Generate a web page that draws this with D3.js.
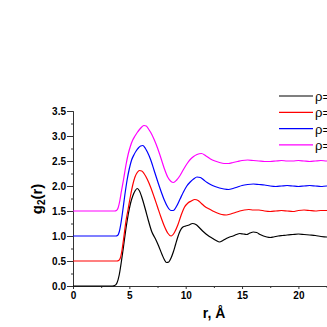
<!DOCTYPE html>
<html>
<head>
<meta charset="utf-8">
<script src="https://cdn.jsdelivr.net/npm/d3@7"></script>
<style>
body{margin:0;background:#fff}
svg{display:block;font-family:"Liberation Sans",Arial,sans-serif}
.axis text{font-weight:bold;font-size:10px;fill:#000}
.axis path,.axis line{stroke:#333}
</style>
</head>
<body>
<div id="chart"></div>
<script>
// g2(r) curves as [r, g]
var black=[[0,0],[3.5,0],[3.7,0.01],[3.9,0.06],[4.1,0.22],[4.3,0.5],[4.5,0.82],[4.7,1.15],[4.9,1.43],[5.1,1.65],[5.3,1.8],[5.5,1.9],[5.7,1.95],[5.9,1.9],[6.1,1.78],[6.4,1.55],[6.7,1.3],[7.0,1.08],[7.3,0.95],[7.6,0.8],[7.9,0.63],[8.1,0.53],[8.3,0.47],[8.5,0.48],[8.7,0.56],[8.9,0.68],[9.1,0.83],[9.3,0.98],[9.5,1.1],[9.7,1.17],[10.0,1.2],[10.3,1.22],[10.6,1.25],[10.9,1.23],[11.2,1.17],[11.5,1.1],[11.8,1.04],[12.1,0.99],[12.4,0.95],[12.7,0.91],[13.0,0.88],[13.3,0.91],[13.6,0.95],[13.9,0.98],[14.2,1.0],[14.5,1.03],[14.8,1.05],[15.1,1.04],[15.4,1.03],[15.7,1.06],[16.0,1.08],[16.3,1.07],[16.6,1.03],[16.9,1.0],[17.2,0.98],[17.5,0.97],[17.8,0.98],[18.2,1.0],[18.6,1.01],[19.0,1.02],[19.5,1.03],[20.0,1.04],[20.5,1.03],[21.0,1.02],[21.5,1.01],[22.0,0.99],[22.5,0.98],[23,0.99]]
var red=[[0,0.5],[3.9,0.5],[4.05,0.51],[4.2,0.56],[4.35,0.72],[4.5,0.96],[4.7,1.3],[4.9,1.55],[5.1,1.8],[5.3,2.02],[5.5,2.18],[5.7,2.27],[5.9,2.31],[6.1,2.3],[6.3,2.25],[6.6,2.13],[6.9,1.97],[7.2,1.78],[7.5,1.58],[7.8,1.38],[8.1,1.2],[8.4,1.06],[8.7,1.0],[9.0,1.07],[9.3,1.22],[9.6,1.42],[9.9,1.58],[10.2,1.66],[10.5,1.7],[10.8,1.73],[11.1,1.71],[11.4,1.65],[11.7,1.59],[12.0,1.55],[12.4,1.5],[12.8,1.46],[13.2,1.43],[13.6,1.42],[14.0,1.44],[14.4,1.47],[14.8,1.5],[15.2,1.52],[15.6,1.53],[16.0,1.52],[16.5,1.52],[17.0,1.5],[17.5,1.49],[18.0,1.5],[18.5,1.51],[19.0,1.5],[19.5,1.49],[20.0,1.51],[20.5,1.52],[21.0,1.51],[21.5,1.5],[22.0,1.51],[22.5,1.51],[23,1.5]]
var blue=[[0,1],[3.8,1.0],[3.95,1.01],[4.1,1.08],[4.25,1.25],[4.4,1.48],[4.6,1.82],[4.8,2.12],[5.0,2.35],[5.2,2.52],[5.4,2.62],[5.6,2.7],[5.8,2.76],[6.0,2.8],[6.2,2.81],[6.4,2.76],[6.6,2.68],[6.9,2.52],[7.2,2.31],[7.5,2.1],[7.8,1.9],[8.1,1.72],[8.4,1.58],[8.7,1.51],[8.9,1.51],[9.2,1.6],[9.5,1.74],[9.8,1.88],[10.1,2.0],[10.4,2.08],[10.7,2.14],[11.0,2.18],[11.3,2.17],[11.6,2.12],[11.9,2.07],[12.2,2.03],[12.6,1.99],[13.0,1.96],[13.4,1.94],[13.8,1.93],[14.2,1.95],[14.6,1.98],[15.0,2.01],[15.5,2.03],[16.0,2.04],[16.5,2.03],[17.0,2.02],[17.5,2.0],[18.0,1.99],[18.5,2.0],[19.0,2.01],[19.5,2.0],[20.0,1.99],[20.5,2.0],[21.0,2.01],[21.5,2.0],[22.0,1.99],[22.5,2.0],[23,2.0]]
var magenta=[[0,1.5],[3.7,1.5],[3.85,1.51],[4.0,1.56],[4.15,1.7],[4.3,1.9],[4.5,2.15],[4.7,2.42],[4.9,2.64],[5.1,2.8],[5.3,2.92],[5.5,3.0],[5.7,3.07],[5.9,3.13],[6.1,3.18],[6.3,3.21],[6.5,3.2],[6.7,3.14],[6.9,3.07],[7.2,2.93],[7.5,2.76],[7.8,2.56],[8.1,2.35],[8.4,2.18],[8.7,2.09],[8.9,2.07],[9.2,2.12],[9.5,2.21],[9.8,2.33],[10.1,2.44],[10.4,2.53],[10.7,2.59],[11.0,2.63],[11.4,2.65],[11.8,2.6],[12.2,2.54],[12.6,2.5],[13.0,2.47],[13.4,2.45],[13.8,2.45],[14.2,2.47],[14.6,2.49],[15.0,2.51],[15.5,2.52],[16.0,2.51],[16.5,2.5],[17.0,2.49],[17.5,2.49],[18.0,2.5],[18.5,2.51],[19.0,2.5],[19.5,2.5],[20.0,2.51],[20.5,2.5],[21.0,2.49],[21.5,2.5],[22.0,2.51],[22.5,2.5],[23,2.5]]

var series=[black,red,blue,magenta]
var colors=['#000000','#ff0000','#0000ff','#ff00ff']
var names=['ρ=0.8','ρ=0.9','ρ=1.0','ρ=1.1']
var xTicks=[0,5,10,15,20]
var yTicks=[0,0.5,1,1.5,2,2.5,3,3.5]

var W=327,H=327
var svg=d3.select('#chart').append('svg').attr('width',W).attr('height',H)

var x=d3.scaleLinear().domain([0,25]).range([73,73+25*11.27])
var y=d3.scaleLinear().domain([0,3.5]).range([286,111])

// minor ticks first so the majors draw on top
svg.append('g').attr('class','axis').attr('transform','translate(0,286)')
  .call(d3.axisBottom(x).tickValues([2.5,7.5,12.5,17.5,22.5]).tickSize(2).tickFormat(''))
svg.append('g').attr('class','axis').attr('transform','translate(73,0)')
  .call(d3.axisLeft(y).tickValues(d3.range(0.25,3.5,0.5)).tickSize(2).tickFormat(''))

var xa=svg.append('g').attr('class','axis').attr('transform','translate(0,286)')
  .call(d3.axisBottom(x).tickValues(xTicks).tickSize(3).tickSizeOuter(0).tickPadding(3).tickFormat(d3.format('d')))
var ya=svg.append('g').attr('class','axis').attr('transform','translate(73,0)')
  .call(d3.axisLeft(y).tickValues(yTicks).tickSize(6).tickSizeOuter(0).tickPadding(1).tickFormat(d3.format('.1f')))

var line=d3.line().x(function(d){return x(d[0])}).y(function(d){return y(d[1])}).curve(d3.curveMonotoneX)

svg.append('g').selectAll('path').data(series).enter().append('path')
  .attr('d',line)
  .attr('fill','none')
  .attr('stroke',function(d,i){return colors[i]})
  .attr('stroke-width',1.2)

// axis titles
var yl=svg.append('text').attr('transform','translate(42,199) rotate(-90)')
  .attr('text-anchor','middle').style('font-weight','bold').style('font-size','15px')
yl.append('tspan').text('g')
yl.append('tspan').attr('dy',3).style('font-size','10px').text('2')
yl.append('tspan').attr('dy',-3).text('(r)')

svg.append('text').attr('x',214).attr('y',318).attr('text-anchor','middle')
  .style('font-weight','bold').style('font-size','14px').text('r, Å')

// legend
var lg=svg.append('g').selectAll('g').data(names).enter().append('g')
  .attr('transform',function(d,i){return 'translate(279,'+(96+i*16.3)+')'})
lg.append('line').attr('x1',0).attr('x2',34).attr('stroke',function(d,i){return colors[i]}).attr('stroke-width',1.2)
lg.append('text').attr('x',36).attr('y',5).style('font-size','13px').text(function(d){return d})
</script>
</body>
</html>
